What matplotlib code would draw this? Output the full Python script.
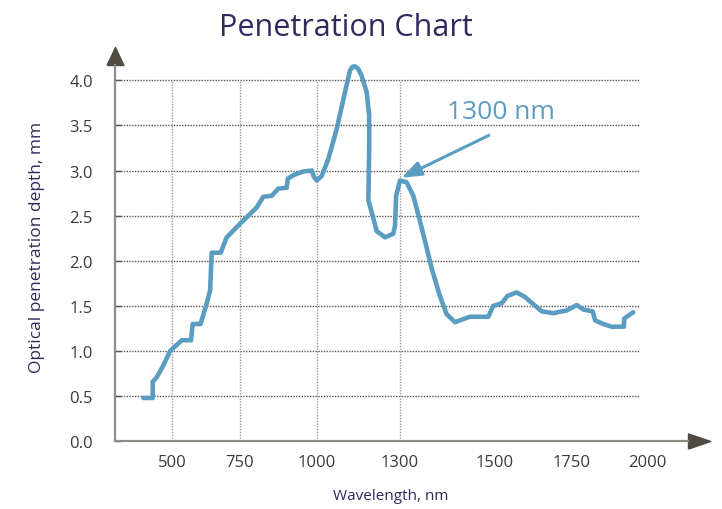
import numpy as np
import matplotlib
matplotlib.use("Agg")
from matplotlib import pyplot as plt

# wavelength (nm) and penetration depth (mm)
wavelength = [395, 429, 429, 444, 468, 493, 536, 570, 576, 605, 625, 640, 646, 679,
              701, 750, 804, 826, 853, 875, 902, 906, 924, 956, 984, 991, 1000, 1018,
              1042, 1072, 1096, 1120, 1129, 1138, 1149, 1162, 1180, 1189, 1189, 1186, 1198,
              1216, 1246, 1276, 1282, 1286, 1300, 1314, 1328, 1339, 1356, 1367, 1384, 1398,
              1416, 1447, 1486, 1496, 1522, 1540, 1570, 1597, 1624, 1652, 1689, 1733,
              1766, 1788, 1819, 1827, 1854, 1882, 1923, 1924, 1954]
depth = [0.48, 0.48, 0.66, 0.71, 0.84, 1.00, 1.12, 1.12, 1.30, 1.30, 1.50, 1.67, 2.09, 2.09,
         2.26, 2.41, 2.59, 2.71, 2.72, 2.80, 2.81, 2.91, 2.95, 2.99, 3.00, 2.93, 2.89, 2.94,
         3.13, 3.46, 3.79, 4.11, 4.15, 4.155, 4.13, 4.05, 3.87, 3.61, 3.24, 2.67, 2.54,
         2.33, 2.26, 2.30, 2.39, 2.72, 2.89, 2.87, 2.72, 2.50, 2.15, 1.91, 1.61, 1.41,
         1.32, 1.38, 1.38, 1.50, 1.53, 1.61, 1.65, 1.60, 1.52, 1.44, 1.42, 1.45,
         1.51, 1.46, 1.44, 1.34, 1.30, 1.27, 1.27, 1.36, 1.43]

x_ticks = [500, 750, 1000, 1300, 1500, 1750, 2000]
x_grid = [500, 750, 1000, 1300]
y_ticks = [0.0, 0.5, 1.0, 1.5, 2.0, 2.5, 3.0, 3.5, 4.0]

# the chart's wavelength axis is not linear: map nm -> pixel-like position
scale_nm = [290.5, 500, 750, 1000, 1300, 1500, 1750, 2000, 2136.7]
scale_pos = [115, 172, 240, 316.7, 400, 495, 572, 647, 688]


def fwd(x):
    return np.interp(x, scale_nm, scale_pos)


def inv(p):
    return np.interp(p, scale_pos, scale_nm)


line_color = "#5b9cc1"
navy = "#2e2b5c"
plt.rcParams["font.family"] = ["Open Sans", "DejaVu Sans"]

fig = plt.figure(figsize=(7.22, 5.10), dpi=100)
ax = fig.add_axes([115 / 722, 1 - 442.3 / 510, (688 - 115) / 722, (442.3 - 66) / 510])
ax.set_xscale("function", functions=(fwd, inv))
ax.set_xlim(290.5, 2136.7)
ax.set_ylim(0, 4.17)

# dotted grid, limited to the plotting area of the original
ax.hlines(y_ticks[1:], 290.5, 1973, colors="#555555", linestyles=(0, (1, 1)), lw=1.0, zorder=1)
ax.vlines(x_grid, 0, 4.0, colors="#9a9a9a", linestyles=(0, (1, 1)), lw=1.0, zorder=1)

ax.plot(wavelength, depth, color=line_color, lw=3.3, solid_joinstyle="round",
        solid_capstyle="round", zorder=3, clip_on=False)

ax.annotate("", xy=(1303, 2.92), xytext=(1487, 3.39),
            arrowprops=dict(arrowstyle="-|>,head_length=0.6,head_width=0.22",
                            color=line_color, lw=2.2, shrinkA=0, shrinkB=0,
                            mutation_scale=20))
ax.text(1519, 3.66, "1300 nm", color=line_color, fontsize=19, ha="center", va="center")

for side in ["top", "right"]:
    ax.spines[side].set_visible(False)
for side in ["left", "bottom"]:
    ax.spines[side].set_color("#8e8a86")
    ax.spines[side].set_linewidth(1.6)

# arrow heads at the axis ends
up = [(-0.47, 0), (0.47, 0), (0, 1), (-0.47, 0)]
right = [(0, -0.34), (0, 0.34), (1, 0), (0, -0.34)]
ax.plot([0], [1], marker=up, ms=26, color="#4f4b41", transform=ax.transAxes, clip_on=False)
ax.plot([1], [0], marker=right, ms=32, color="#4f4b41", transform=ax.transAxes, clip_on=False)

ax.set_xticks(x_ticks)
ax.set_xticklabels([str(v) for v in x_ticks])
ax.set_yticks(y_ticks)
ax.set_yticklabels(["%.1f" % v for v in y_ticks])
ax.xaxis.set_minor_locator(matplotlib.ticker.NullLocator())
ax.tick_params(axis="x", length=0, pad=9, labelsize=12, labelcolor="#3a3a3a")
ax.tick_params(axis="y", direction="in", length=4, width=1, color="#555555",
               pad=16, labelsize=12, labelcolor="#3a3a3a")

fig.text(346 / 722, 1 - 28 / 510, "Penetration Chart", color=navy, fontsize=22,
         ha="center", va="center")
fig.text(37 / 722, 1 - 247 / 510, "Optical penetration depth, mm", color=navy,
         fontsize=12.5, rotation=90, ha="center", va="center")
fig.text(391 / 722, 1 - 497 / 510, "Wavelength, nm", color=navy, fontsize=11,
         ha="center", va="center")

fig.savefig("out.png", dpi=100)
